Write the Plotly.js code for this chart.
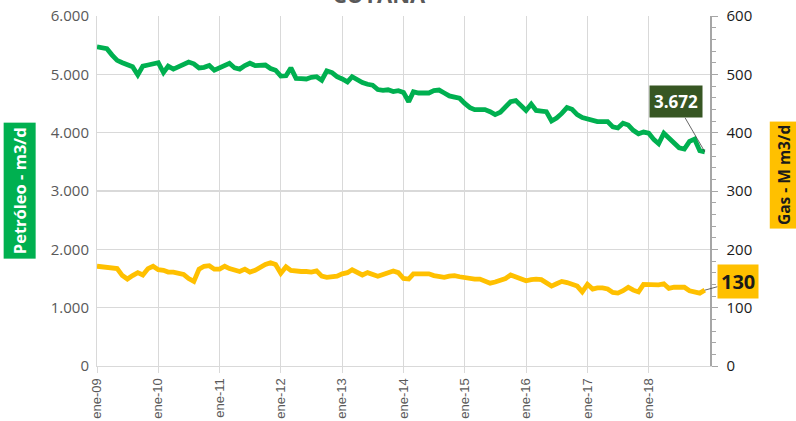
<!DOCTYPE html>
<html><head><meta charset="utf-8">
<script src="https://cdn.plot.ly/plotly-3.0.1.min.js"></script>
<style>html,body{margin:0;padding:0;background:#fff}#chart{width:796px;height:421px}</style>
</head><body><div id="chart"></div>
<script>
// Monthly data, ene-09 .. dic-18
const startYear = 2009;
const nMonths = 120;
const petroleo = [
 5470,5455,5440,5330,5240,5200,5160,5131,4990,5140,
 5160,5180,5200,5030,5140,5090,5130,5180,5210,5180,
 5110,5120,5150,5070,5110,5170,5190,5110,5090,5150,
 5190,5150,5150,5160,5100,5070,4970,4975,5110,4930,
 4925,4920,4950,4960,4900,5060,5030,4960,4920,4870,
 4960,4900,4860,4830,4815,4740,4725,4735,4705,4720,
 4690,4530,4700,4680,4670,4680,4720,4730,4680,4630,
 4610,4590,4500,4430,4395,4390,4395,4360,4310,4350,
 4440,4530,4550,4460,4380,4490,4380,4370,4360,4200,
 4250,4330,4430,4400,4310,4260,4230,4200,4190,4190,
 4190,4100,4080,4160,4130,4040,3980,4010,3990,3880,
 3810,3990,3900,3830,3740,3720,3850,3890,3690,3672
];
const gas = [
 171,170,170,168,167,155,149,155,160,156,
 167,171,165,164,161,161,160,157,150,145,
 166,171,172,166,166,171,167,165,162,166,
 161,164,170,174,177,174,159,170,164,162,
 162,162,161,163,154,152,153,154,158,160,
 165,160,156,160,157,154,157,160,163,160,
 150,149,158,158,158,158,155,153,152,154,
 155,153,151,150,149,149,146,142,144,146,
 150,156,153,149,146,148,149,148,142,137,
 141,145,143,140,137,127,140,132,134,134,
 132,126,125,129,135,130,127,140,140,138,
 139,141,133,135,136,135,129,126,125,130
];
const tickLabels = ["ene-09","ene-10","ene-11","ene-12","ene-13","ene-14","ene-15","ene-16","ene-17","ene-18"];
const titleText = "CUYANA";
const leftTitle = "Petróleo - m3/d";
const rightTitle = "Gas - M m3/d";

const dates = [];
for (let i = 0; i < nMonths; i++) {
  const y = startYear + Math.floor(i / 12);
  const m = (i % 12) + 1;
  dates.push(y + "-" + String(m).padStart(2, "0") + "-01");
}
const tickVals = tickLabels.map((t, k) => (startYear + k) + "-01-01");

const fmt = v => v.toLocaleString("de-DE");
const lastIdx = nMonths - 1;

const traces = [
  {x: dates, y: petroleo, type: "scatter", mode: "lines", name: "Petróleo",
   line: {color: "#00B050", width: 4.8, shape: "linear"}, yaxis: "y", hoverinfo: "none"},
  {x: dates, y: gas, type: "scatter", mode: "lines", name: "Gas",
   line: {color: "#FFC000", width: 4.8}, yaxis: "y2", hoverinfo: "none"}
];

const layout = {
  width: 796, height: 421,
  margin: {l: 97, r: 86, t: 16, b: 55},
  paper_bgcolor: "#fff", plot_bgcolor: "#fff",
  showlegend: false,
  separators: ",.",
  font: {family: "Open Sans, Liberation Sans, sans-serif", color: "#595959"},
  title: {text: "<b>" + titleText + "</b>", font: {size: 22, color: "#595959", family: "Open Sans, sans-serif"},
          x: 0.46, xanchor: "center", xref: "paper", yref: "container", y: 0.993, yanchor: "bottom"},
  xaxis: {
    type: "date", range: ["2009-01-01", "2019-01-01"],
    tickvals: tickVals, ticktext: tickLabels, tickangle: -90,
    tickfont: {size: 13, color: "#595959", family: "Liberation Sans, sans-serif"},
    showgrid: true, gridcolor: "#D9D9D9", gridwidth: 1,
    showline: true, linecolor: "#D9D9D9", linewidth: 1,
    ticks: "outside", ticklen: 6, tickcolor: "#D9D9D9",
    zeroline: false, fixedrange: true
  },
  yaxis: {
    range: [0, 6000], dtick: 1000, tickformat: ",d",
    tickfont: {size: 15, color: "#595959"},
    showgrid: true, gridcolor: "#D9D9D9", gridwidth: 1.5,
    showline: true, linecolor: "#D9D9D9", zeroline: false, ticks: "", ticklabelstandoff: 4
  },
  yaxis2: {
    range: [0, 600], dtick: 100, overlaying: "y", side: "right",
    tickfont: {size: 15, color: "#1a1a1a"},
    showgrid: false, showline: true, linecolor: "#A6A6A6", linewidth: 1.5,
    ticks: "outside", ticklen: 6, tickcolor: "#A6A6A6",
    minor: {dtick: 20, ticks: "outside", ticklen: 4, tickcolor: "#A6A6A6"},
    zeroline: false, ticklabelstandoff: 6
  },
  annotations: [
    {xref: "paper", yref: "paper", x: -0.127, y: 0.50, xanchor: "center", yanchor: "middle",
     text: "<b>" + leftTitle + "</b>", textangle: -90, showarrow: false,
     font: {size: 16.5, color: "#ffffff", family: "Open Sans, sans-serif"},
     bgcolor: "#00B050", borderpad: 4},
    {xref: "paper", yref: "paper", x: 1.121, y: 0.546, xanchor: "center", yanchor: "middle",
     text: "<b>" + rightTitle + "</b>", textangle: -90, showarrow: false,
     font: {size: 15.5, color: "#1a1a1a", family: "Open Sans, sans-serif"},
     bgcolor: "#FFC000", borderpad: 3},
    {x: dates[lastIdx], y: petroleo[lastIdx], xref: "x", yref: "y",
     text: "<b>" + fmt(petroleo[lastIdx]) + "</b>", showarrow: true, arrowhead: 0,
     arrowcolor: "#404040", arrowwidth: 0.8, ax: -29, ay: -50,
     font: {size: 17, color: "#ffffff", family: "Open Sans, sans-serif"},
     bgcolor: "#375623", borderpad: 4},
    {x: dates[lastIdx], y: gas[lastIdx], xref: "x", yref: "y2",
     text: "<b>" + fmt(gas[lastIdx]) + "</b>", showarrow: true, arrowhead: 0,
     arrowcolor: "#404040", arrowwidth: 0.8, ax: 33, ay: -9,
     font: {size: 20, color: "#1a1a1a", family: "Open Sans, sans-serif"},
     bgcolor: "#FFC000", borderpad: 3}
  ]
};

Plotly.newPlot("chart", traces, layout, {staticPlot: true, displayModeBar: false});
</script>
</body></html>
